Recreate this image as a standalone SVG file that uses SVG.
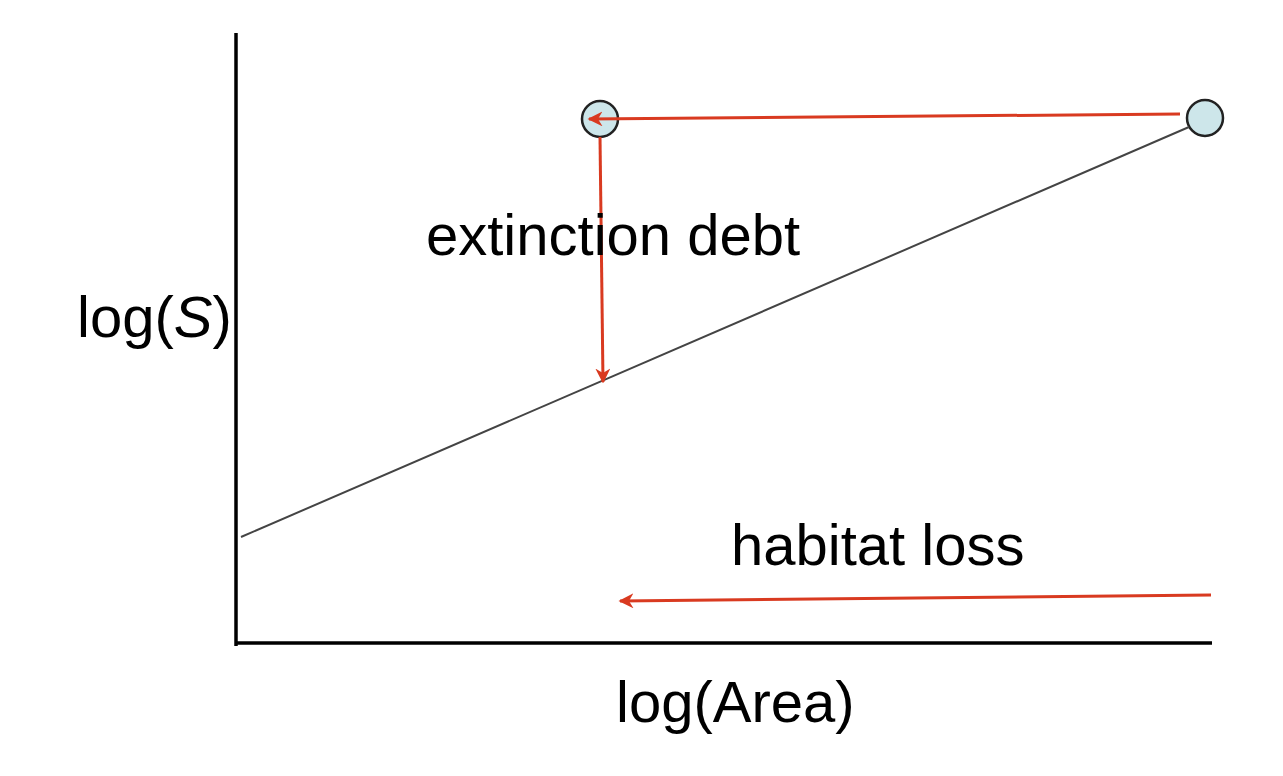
<svg xmlns="http://www.w3.org/2000/svg" width="1283" height="776" viewBox="0 0 1283 776">
<style>
.lbl{font-family:"Liberation Sans",Arial,sans-serif;font-size:58px;fill:#000}
.axis{stroke:#000;stroke-width:3.5;fill:none}
.red{stroke:#d93a20;stroke-width:3;fill:none}
.node{fill:#cde6ea;stroke:#222;stroke-width:2.5}
</style>
<defs>
<marker id="ah" viewBox="0 0 10 10" refX="9" refY="5" markerWidth="5" markerHeight="5" orient="auto" markerUnits="strokeWidth">
<path d="M0,0 L10,5 L0,10 L3,5 Z" fill="#d93a20"/>
</marker>
</defs>
<rect width="1283" height="776" fill="#fff"/>
<g id="axes">
<line class="axis" x1="236" y1="33" x2="236" y2="646"/>
<line class="axis" x1="236" y1="643" x2="1212" y2="643"/>
</g>
<g id="node-current">
<circle class="node" cx="600" cy="119" r="18"/>
</g>
<g id="node-original">
<circle class="node" cx="1205" cy="118" r="18"/>
</g>
<g id="connectors">
<line x1="241" y1="537" x2="1189" y2="127" stroke="#444" stroke-width="2"/>
<line class="red" x1="1180" y1="114" x2="589" y2="119" marker-end="url(#ah)"/>
<line class="red" x1="600" y1="137" x2="603" y2="382" marker-end="url(#ah)"/>
<line class="red" x1="1211" y1="595" x2="620" y2="601" marker-end="url(#ah)"/>
</g>
<g id="labels">
<text class="lbl" x="426" y="255">extinction debt</text>
<text class="lbl" x="77" y="337">log(<tspan font-style="italic">S</tspan>)</text>
<text class="lbl" x="731" y="565">habitat loss</text>
<text class="lbl" x="616" y="722">log(Area)</text>
</g>
</svg>
